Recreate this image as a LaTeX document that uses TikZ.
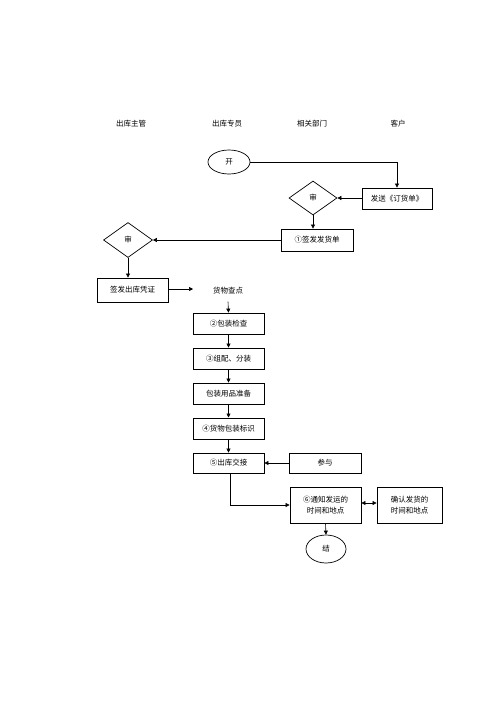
\documentclass[tikz,border=0pt]{standalone}
\usepackage{fontspec}
\newfontfamily\cjk{Noto Sans CJK SC}
\usetikzlibrary{shapes.geometric,arrows.meta}
\begin{document}
\begin{tikzpicture}[x=1pt,y=-1pt,
  every node/.style={font=\cjk\fontsize{7.5}{11}\selectfont,inner sep=0pt},
  box/.style={draw,line width=0.8pt,minimum width=71pt,minimum height=21pt,align=center},
  dia/.style={draw,line width=0.7pt,diamond,minimum width=48pt,minimum height=34pt},
  oval/.style={draw,line width=0.7pt,ellipse,minimum width=42pt,minimum height=24pt},
  conn/.style={line width=0.6pt,-{Triangle[length=4pt,width=4pt]}},
  dconn/.style={line width=0.6pt,{Triangle[length=4pt,width=4pt]}-{Triangle[length=4pt,width=4pt]}}]
\useasboundingbox (0,0) rectangle (500,707);
% headers
\node (h1) at (131,124) {出库主管};
\node (h2) at (227,124) {出库专员};
\node (h3) at (312,124) {相关部门};
\node (h4) at (398,124) {客户};
% nodes
\node[oval] (start) at (229,162) {开};
\node[box,minimum width=70pt] (fs) at (397,198.5) {发送《订货单》};
\node[dia] (d1) at (313,198) {审};
\node[box,minimum width=72pt,minimum height=22pt] (qf) at (317,240) {①签发发货单};
\node[dia,minimum width=49pt,minimum height=35pt] (d2) at (128,240) {审};
\node[box,minimum height=24pt] (qz) at (132.5,290) {签发出库凭证};
\coordinate (qzend) at (193,289);
\node (hw) at (228,291) {货物查点};
\node[box] (b2) at (228.5,323.5) {②包装检查};
\node[box] (b3) at (228.5,358.5) {③组配、分装};
\node[box] (bp) at (228.5,393.5) {包装用品准备};
\node[box,line width=1pt] (b4) at (228.5,428.5) {④货物包装标识};
\node[box,minimum height=20pt] (b5) at (228.5,463) {⑤出库交接};
\node[box,minimum width=72pt,minimum height=20pt] (cy) at (325,463) {参与};
\node[box,minimum height=36pt] (b6) at (325.5,505) {⑥通知发运的\\时间和地点};
\node[box,minimum width=65pt,minimum height=36pt] (qr) at (409.5,505) {确认发货的\\时间和地点};
\node[oval,minimum width=40pt,minimum height=28pt] (end) at (326,549) {结};
% connectors
\draw[conn] (start.east) -- (start.east -| fs.north) -- (fs.north);
\draw[conn] (fs.west |- d1.east) -- (d1.east);
\draw[conn] (d1.south) -- (d1.south |- qf.north);
\draw[conn] (qf.west) -- (d2.east);
\draw[conn] (d2.south) -- (d2.south |- qz.north);
\draw[conn] (qz.east |- qzend) -- (qzend);
\draw[conn] (hw.south) ++(0,7) -- (b2.north);
\draw[conn] (b2) -- (b3);
\draw[conn] (b3) -- (bp);
\draw[conn] (bp) -- (b4);
\draw[conn] (b4) -- (b5);
\draw[conn] (cy) -- (b5);
\draw[conn] (b5.south) ++(1.5,0) |- (b6.west);
\draw[dconn] (b6.east |- 0,503) -- (qr.west |- 0,503);
\draw[conn] (b6.south) -- (end.north);
\end{tikzpicture}
\end{document}
